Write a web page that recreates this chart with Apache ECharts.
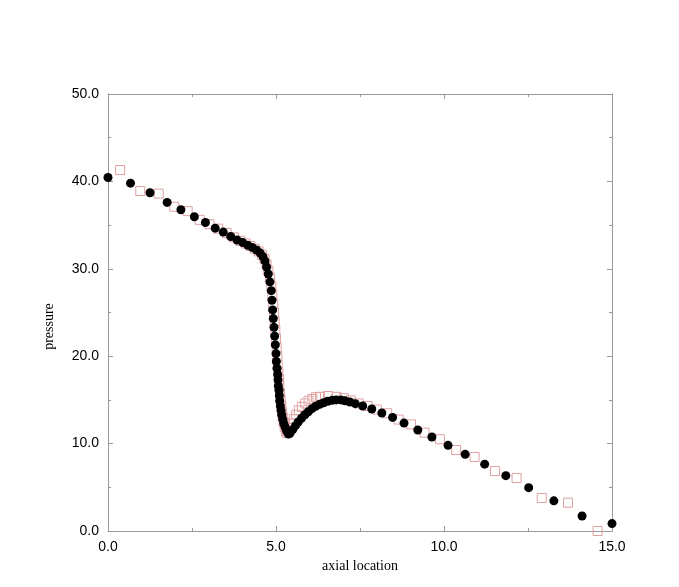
<!DOCTYPE html>
<html>
<head>
<meta charset="utf-8">
<script src="https://cdn.jsdelivr.net/npm/echarts@6/dist/echarts.min.js"></script>
<style>html,body{margin:0;padding:0;background:#fff;}#c{width:679px;height:587px;}</style>
</head>
<body>
<div id="c"></div>
<script>
// axial location / pressure, series of filled circles
const circleX = [0.0,0.67,1.25,1.76,2.17,2.57,2.90,3.19,3.43,3.65,3.84,4.01,4.16,4.29,4.42,4.53,4.61,4.67,4.72,4.77,4.82,4.86,4.88,4.90,4.92,4.94,4.96,4.98,5.00,5.01,5.03,5.05,5.06,5.07,5.09,5.10,5.11,5.13,5.15,5.17,5.20,5.23,5.27,5.32,5.37,5.42,5.50,5.58,5.66,5.76,5.86,5.96,6.07,6.18,6.30,6.42,6.54,6.67,6.79,6.93,7.05,7.20,7.36,7.58,7.85,8.15,8.47,8.81,9.22,9.64,10.12,10.63,11.21,11.84,12.52,13.27,14.11,15.0];
const circleY = [40.45,39.8,38.7,37.6,36.75,35.95,35.3,34.65,34.2,33.7,33.3,33.0,32.7,32.45,32.15,31.8,31.4,30.9,30.2,29.4,28.5,27.5,26.4,25.3,24.3,23.3,22.3,21.3,20.3,19.4,18.6,17.9,17.3,16.6,16.1,15.5,14.9,14.3,13.8,13.3,12.8,12.3,11.9,11.4,11.1,11.2,11.6,12.05,12.47,12.9,13.3,13.65,14.0,14.27,14.5,14.68,14.84,14.95,15.0,15.0,14.9,14.76,14.57,14.3,13.96,13.5,13.0,12.35,11.56,10.75,9.8,8.77,7.65,6.33,4.96,3.45,1.72,0.85];
// series of hollow squares
const squareX = [0.36,0.96,1.51,1.97,2.37,2.73,3.02,3.28,3.53,3.75,3.94,4.10,4.24,4.37,4.48,4.58,4.66,4.72,4.77,4.82,4.86,4.89,4.92,4.94,4.96,4.98,5.00,5.02,5.04,5.05,5.07,5.09,5.10,5.12,5.14,5.16,5.18,5.20,5.23,5.26,5.30,5.34,5.38,5.42,5.47,5.53,5.60,5.68,5.77,5.87,5.97,6.08,6.19,6.31,6.55,6.80,7.02,7.22,7.46,7.73,8.00,8.31,8.65,9.02,9.42,9.88,10.36,10.91,11.52,12.16,12.91,13.69,14.57];
const squareY = [41.3,38.9,38.6,37.1,36.6,35.6,35.1,34.6,34.1,33.6,33.2,32.9,32.6,32.3,32.0,31.6,31.1,30.5,29.8,29.0,28.0,27.0,26.0,25.0,24.0,23.0,22.0,21.0,20.0,19.0,18.2,17.4,16.6,15.8,15.0,14.3,13.6,13.0,12.4,11.9,11.4,11.2,11.4,11.8,12.3,12.8,13.3,13.8,14.2,14.6,14.9,15.1,15.3,15.35,15.45,15.35,15.2,14.95,14.6,14.3,13.9,13.47,12.75,12.2,11.25,10.5,9.27,8.47,6.86,6.06,3.78,3.24,0.0];
const xTicks = [0, 5, 10, 15];
const yTicks = [0, 10, 20, 30, 40, 50];

const circles = circleX.map((x, i) => [x, circleY[i]]);
const squares = squareX.map((x, i) => [x, squareY[i]]);
const axisColor = '#999999';
const lblFont = {fontFamily: 'Liberation Sans', fontSize: 14, color: '#000'};
const chart = echarts.init(document.getElementById('c'), null, {renderer: 'canvas'});
function frameAxis(extra) {
  return Object.assign({
    axisLine: {show: true, onZero: false, lineStyle: {color: axisColor, width: 1}},
    axisTick: {show: true, inside: true, length: 5, lineStyle: {color: axisColor}},
    minorTick: {show: true, splitNumber: 2, length: 3, lineStyle: {color: axisColor}},
    splitLine: {show: false}
  }, extra);
}
chart.setOption({
  animation: false,
  backgroundColor: '#fff',
  grid: {left: 108, right: 67, top: 94, bottom: 56, containLabel: false},
  xAxis: [
    frameAxis({type: 'value', min: xTicks[0], max: xTicks[xTicks.length-1], interval: 5, position: 'bottom',
      name: 'axial location', nameLocation: 'middle', nameGap: 28,
      nameTextStyle: {fontFamily: 'Liberation Serif', fontSize: 14, color: '#000'},
      axisLabel: Object.assign({margin: 9, formatter: v => v.toFixed(1)}, lblFont)}),
    frameAxis({type: 'value', min: xTicks[0], max: xTicks[xTicks.length-1], interval: 5, position: 'top', axisLabel: {show: false}})
  ],
  yAxis: [
    frameAxis({type: 'value', min: yTicks[0], max: yTicks[yTicks.length-1], interval: 10, position: 'left',
      name: 'pressure', nameLocation: 'middle', nameGap: 52, nameRotate: 90,
      nameTextStyle: {fontFamily: 'Liberation Serif', fontSize: 14, color: '#000', padding: [0, 28, 0, 0]},
      axisLabel: Object.assign({margin: 9, formatter: v => v.toFixed(1)}, lblFont)}),
    frameAxis({type: 'value', min: yTicks[0], max: yTicks[yTicks.length-1], interval: 10, position: 'right', axisLabel: {show: false}})
  ],
  series: [
    {type: 'scatter', data: squares, symbol: 'rect', symbolSize: 9,
      itemStyle: {color: 'rgba(255,255,255,0)', borderColor: '#e0a0a0', borderWidth: 1, opacity: 1}},
    {type: 'scatter', data: circles, symbol: 'circle', symbolSize: 9,
      itemStyle: {color: '#000', opacity: 1}}
  ]
});
</script>
</body>
</html>
